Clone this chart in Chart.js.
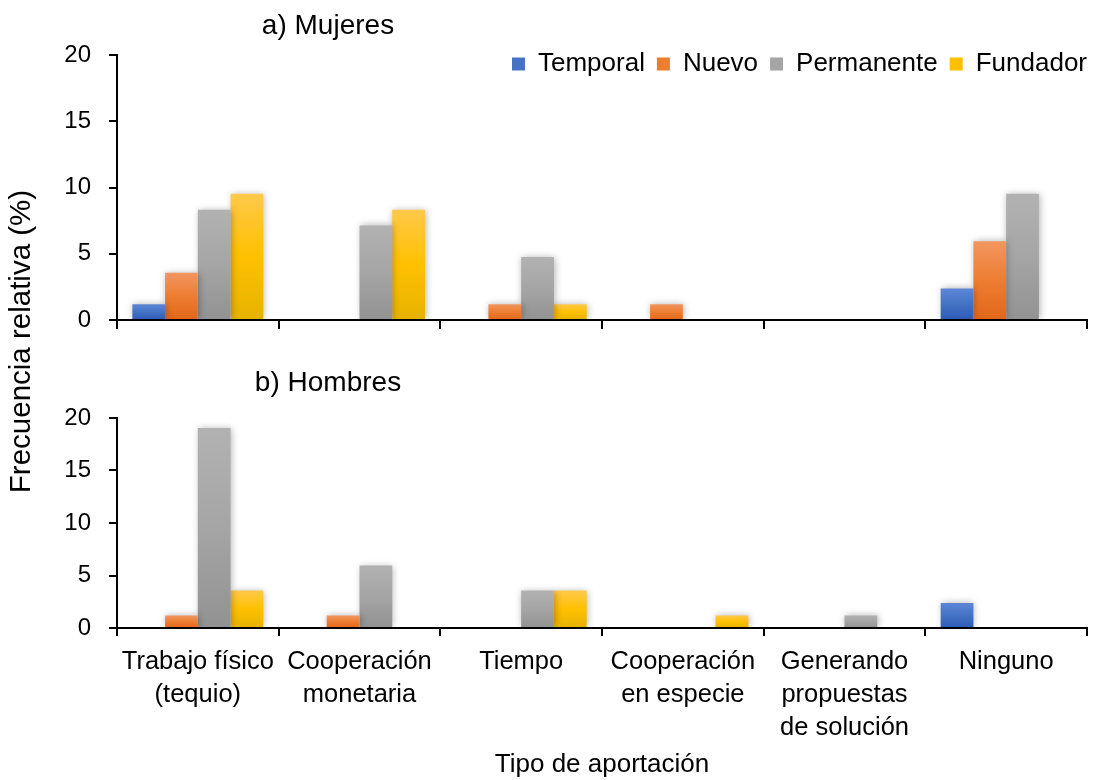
<!DOCTYPE html>
<html>
<head>
<meta charset="utf-8">
<script src="https://cdn.jsdelivr.net/npm/chart.js@4/dist/chart.umd.min.js"></script>
<style>
  html, body { margin: 0; padding: 0; background: #ffffff; }
  #wrap { width: 1099px; height: 780px; position: relative; }
  #wrap canvas { position: absolute; left: 0; top: 0; }
</style>
</head>
<body>
<div id="wrap">
  <canvas id="cTop" width="1099" height="780"></canvas>
  <canvas id="cBot" width="1099" height="780"></canvas>
</div>
<script>
// ---- data ----
const categories = [
  ["Trabajo físico", "(tequio)"],
  ["Cooperación", "monetaria"],
  ["Tiempo"],
  ["Cooperación", "en especie"],
  ["Generando", "propuestas", "de solución"],
  ["Ninguno"]
];
const seriesNames = ["Temporal", "Nuevo", "Permanente", "Fundador"];
const mujeresTemporal   = [1.19, 0, 0, 0, 0, 2.38];
const mujeresNuevo      = [3.57, 0, 1.19, 1.19, 0, 5.95];
const mujeresPermanente = [8.33, 7.14, 4.76, 0, 0, 9.52];
const mujeresFundador   = [9.52, 8.33, 1.19, 0, 0, 0];
const hombresTemporal   = [0, 0, 0, 0, 0, 2.38];
const hombresNuevo      = [1.19, 1.19, 0, 0, 0, 0];
const hombresPermanente = [19.05, 5.95, 3.57, 0, 1.19, 0];
const hombresFundador   = [3.57, 0, 3.57, 1.19, 0, 0];
const panelTitles = ["a) Mujeres", "b) Hombres"];
const yTitle = "Frecuencia relativa (%)";
const xTitle = "Tipo de aportación";
const yTicks = [0, 5, 10, 15, 20];

// ---- styles ----
const FONT = "'Liberation Sans', Arial, Helvetica, sans-serif";
Chart.defaults.font.family = FONT;
Chart.defaults.color = '#000';
const seriesColors = [
  ['#5D86D6', '#4472C4', '#2C5BB8'],
  ['#F29660', '#ED7D31', '#E2661A'],
  ['#B2B2B2', '#A5A5A5', '#929292'],
  ['#FFC94A', '#FFC000', '#E6B200']
];

function barGradient(stops) {
  return (ctx) => {
    const chart = ctx.chart;
    if (!chart.chartArea || ctx.type !== 'data') return stops[1];
    const meta = chart.getDatasetMeta(ctx.datasetIndex);
    const ys = chart.scales[meta.yAxisID];
    if (!ys) return stops[1];
    const top = ys.getPixelForValue(ctx.raw);
    const bot = ys.getPixelForValue(0);
    if (!(bot - top > 0.5)) return stops[1];
    const g = chart.ctx.createLinearGradient(0, top, 0, bot);
    g.addColorStop(0, stops[0]);
    g.addColorStop(0.5, stops[1]);
    g.addColorStop(1, stops[2]);
    return g;
  };
}

function makeDatasets(series, xId, yId) {
  return series.map((d, i) => ({
    label: seriesNames[i], data: d, xAxisID: xId, yAxisID: yId,
    backgroundColor: barGradient(seriesColors[i]), borderWidth: 0,
    categoryPercentage: 0.81, barPercentage: 1.0
  }));
}

const shadowPlugin = {
  id: 'barShadow',
  beforeDatasetsDraw(chart) {
    const c = chart.ctx;
    c.save();
    c.shadowColor = 'rgba(0,0,0,0.30)';
    c.shadowBlur = 7;
    c.shadowOffsetX = 1;
    c.shadowOffsetY = 0;
  },
  afterDatasetsDraw(chart) { chart.ctx.restore(); }
};

// let the legend row sit a little inside the top panel (as in the reference)
const legendRoomPlugin = {
  id: 'legendRoom',
  afterLayout(chart) {
    const l = chart.legend;
    if (l && l.options.display) { l.bottom = l.top + 60; l.height = 60; }
  }
};

function panelTitlePlugin(text, scaleId, dy) {
  return {
    id: 'panelTitle',
    afterDraw(chart) {
      const c = chart.ctx;
      const ca = chart.chartArea;
      const s = chart.scales[scaleId];
      c.save();
      c.fillStyle = '#000';
      c.font = '28px ' + FONT;
      c.textAlign = 'center';
      c.textBaseline = 'middle';
      c.fillText(text, ca.left + 211, s.top + dy);
      c.restore();
    }
  };
}

const tickGrid = { display: true, drawOnChartArea: false, drawTicks: true, tickLength: 8, color: '#000', lineWidth: 2 };
const axisBorder = { display: true, color: '#000', width: 2 };
const hidden = () => ({
  type: 'linear', display: true,
  ticks: { display: false }, grid: { display: false }, border: { display: false }
});
const valueAxis = (stackWeight, weight) => ({
  type: 'linear', position: 'left', stack: 'panels', stackWeight, weight,
  min: 0, max: 20,
  afterBuildTicks: (s) => { s.ticks = yTicks.map(v => ({ value: v })); },
  ticks: { font: { size: 24 }, color: '#000', padding: 18 },
  grid: tickGrid, border: axisBorder,
  afterFit: (s) => { s.width = 72; }
});

// ---- top panel: Mujeres (also carries legend and y-axis title) ----
new Chart(document.getElementById('cTop'), {
  type: 'bar',
  data: { labels: categories, datasets: makeDatasets(
    [mujeresTemporal, mujeresNuevo, mujeresPermanente, mujeresFundador], 'xTop', 'yTop') },
  plugins: [shadowPlugin, legendRoomPlugin, panelTitlePlugin(panelTitles[0], 'yTop', -29)],
  options: {
    responsive: false,
    animation: false,
    layout: { padding: { top: 39, left: 0, right: 0, bottom: 152 } },
    plugins: {
      tooltip: { enabled: false },
      title: { display: false },
      legend: {
        display: true,
        position: 'top',
        align: 'end',
        maxHeight: 16,
        labels: {
          boxWidth: 13, boxHeight: 13, padding: 12,
          font: { size: 26 }, color: '#000',
          generateLabels: () => seriesNames.map((n, i) => ({
            text: n, fillStyle: seriesColors[i][1], strokeStyle: seriesColors[i][1],
            lineWidth: 0, hidden: false, datasetIndex: i, fontColor: '#000'
          }))
        }
      }
    },
    scales: {
      xTop: {
        type: 'category', position: { yTop: 0 }, offset: true,
        grid: Object.assign({ offset: true }, tickGrid),
        border: axisBorder,
        ticks: { display: false }
      },
      yTitle: Object.assign(hidden(), {
        position: 'left', weight: 10,
        title: { display: true, text: yTitle, font: { size: 29.5 }, color: '#000', padding: { top: 4, bottom: 0 } },
        afterFit: (s) => { s.width = 45; }
      }),
      yTop: valueAxis(265, 3),
      ySpA: Object.assign(hidden(), {
        position: 'left', stack: 'panels', stackWeight: 308, weight: 1,
        afterFit: (s) => { s.width = 72; }
      }),
      yRight: Object.assign(hidden(), {
        position: 'right',
        afterFit: (s) => { s.width = 12; }
      })
    }
  }
});

// ---- bottom panel: Hombres (carries category labels and x-axis title) ----
new Chart(document.getElementById('cBot'), {
  type: 'bar',
  data: { labels: categories, datasets: makeDatasets(
    [hombresTemporal, hombresNuevo, hombresPermanente, hombresFundador], 'x', 'yBot') },
  plugins: [shadowPlugin, panelTitlePlugin(panelTitles[1], 'yBot', -35)],
  options: {
    responsive: false,
    animation: false,
    layout: { padding: { top: 55, left: 45, right: 0, bottom: 0 } },
    plugins: {
      tooltip: { enabled: false },
      title: { display: false },
      legend: { display: false }
    },
    scales: {
      x: {
        type: 'category', position: 'bottom', offset: true,
        grid: Object.assign({ offset: true }, tickGrid),
        border: axisBorder,
        ticks: { autoSkip: false, maxRotation: 0, minRotation: 0, padding: 10,
                 font: { size: 25.5, lineHeight: 1.28 }, color: '#000' },
        title: { display: true, text: xTitle, font: { size: 26 }, color: '#000', padding: { top: 0, bottom: 0 } },
        afterFit: (s) => { s.height = 152; }
      },
      ySpB: Object.assign(hidden(), {
        position: 'left', stack: 'panels', stackWeight: 363, weight: 3,
        afterFit: (s) => { s.width = 72; }
      }),
      yBot: valueAxis(210, 1),
      yRight: Object.assign(hidden(), {
        position: 'right',
        afterFit: (s) => { s.width = 12; }
      })
    }
  }
});
</script>
</body>
</html>
